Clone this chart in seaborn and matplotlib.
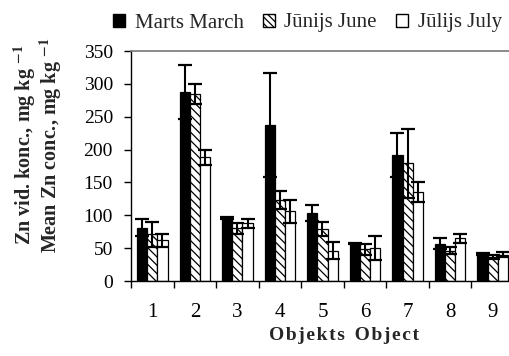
import numpy as np
import pandas as pd
import matplotlib
matplotlib.use("Agg")
import matplotlib.pyplot as plt
import seaborn as sns
from matplotlib.patches import Patch

objects = ["1", "2", "3", "4", "5", "6", "7", "8", "9"]
series = ["Marts March", "Jūnijs June", "Jūlijs July"]
march = [81, 288, 96, 237, 104, 57, 192, 57, 41]
june = [71, 285, 80, 123, 79, 48, 179, 46, 37]
july = [62, 188, 88, 106, 46, 50, 135, 65, 40]
march_err = [13, 41, 1, 79, 12, 1, 33, 8, 1]
june_err = [19, 15, 8, 14, 11, 8, 52, 5, 3]
july_err = [10, 12, 7, 18, 13, 18, 15, 7, 4]
yticks = [0, 50, 100, 150, 200, 250, 300, 350]

sns.set_theme(style="white")
plt.rcParams['font.family'] = ['Liberation Serif', 'DejaVu Serif']
plt.rcParams['mathtext.fontset'] = 'stix'
plt.rcParams['hatch.linewidth'] = 0.9
plt.rcParams['hatch.color'] = 'black'

df = pd.DataFrame({
    "Objekts": objects * 3,
    "Series": [s for s in series for _ in objects],
    "Value": march + june + july,
    "Err": march_err + june_err + july_err,
})

fig = plt.figure(figsize=(5.10, 3.56), dpi=100)
ax = fig.add_axes([131/510, 1-281/356, (514-131)/510, (281-51)/356])

sns.barplot(data=df, x="Objekts", y="Value", hue="Series", order=objects,
            hue_order=series, errorbar=None, width=0.72,
            palette=["black", "white", "white"], edgecolor="black",
            linewidth=0.9, ax=ax, legend=False)

errs = [march_err, june_err, july_err]
vals = [march, june, july]
bar_containers = list(ax.containers)
for i, cont in enumerate(bar_containers):
    xs = []
    for p in cont.patches:
        if i == 1:
            p.set_hatch('\\\\\\\\')
        xs.append(p.get_x() + p.get_width() / 2)
    ax.errorbar(xs, vals[i], yerr=errs[i], fmt='none', ecolor='black',
                elinewidth=1.5, capsize=5.2, capthick=1.6, zorder=5)

ax.set_ylim(0, 350)
ax.set_xlim(-0.5, 8.5)
ax.set_yticks(yticks)
ax.set_yticklabels([str(v) for v in yticks], fontsize=14)
ax.set_xticks(range(len(objects)))
ax.set_xticklabels(objects, fontsize=15)
ax.set_xticks(np.arange(-0.5, 9.0, 1.0), minor=True)
ax.tick_params(axis='x', which='major', length=0, pad=16, colors='black')
ax.tick_params(axis='x', which='minor', length=5, width=1, direction='out', color='black', bottom=True)
ax.tick_params(axis='y', length=5, width=1, direction='out', pad=8, left=True, colors='black')
ax.set_xlabel("")
ax.set_ylabel("")

for s in ['left', 'bottom']:
    ax.spines[s].set_color('black')
    ax.spines[s].set_linewidth(1.0)
ax.spines['top'].set_color('#777777')
ax.spines['top'].set_linewidth(1.2)
ax.spines['right'].set_visible(False)

lh = [Patch(facecolor='black', edgecolor='black'),
      Patch(facecolor='white', edgecolor='black', hatch='\\\\\\\\\\'),
      Patch(facecolor='white', edgecolor='black')]
leg = fig.legend(lh, series, loc='center left', bbox_to_anchor=(113/510, 1-23/356),
                 ncol=3, frameon=False, fontsize=15, handlelength=0.6,
                 handleheight=0.6, handletextpad=0.45, columnspacing=0.9,
                 borderpad=0, borderaxespad=0)

hs = "\u200a"
fig.text(344/510, 1-336/356, hs.join("Objekts") + "  " + hs.join("Object"),
         ha='center', va='center', fontsize=14, fontweight='bold')
fig.text(38/510, 1-145/356,
         "Zn vid. konc., mg kg $^{\\mathbf{-1}}$\nMean Zn conc., mg kg $^{\\mathbf{-1}}$",
         rotation=90, ha='center', va='center', fontsize=14.5, fontweight='bold',
         multialignment='center', linespacing=1.0)

fig.savefig("out.png", dpi=100)
